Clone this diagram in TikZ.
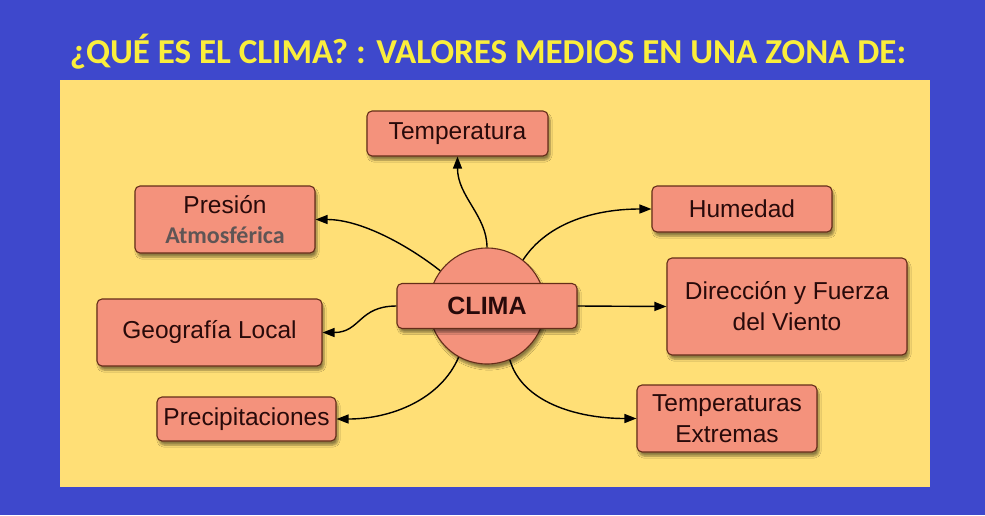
\documentclass[tikz,border=0pt]{standalone}
\usepackage{fontspec}
\setmainfont{Liberation Sans}
\newfontfamily\titlefont{Carlito}
\usetikzlibrary{arrows.meta,shadows.blur}
\definecolor{bgblue}{RGB}{62,72,204}
\definecolor{panel}{RGB}{255,223,118}
\definecolor{titleyel}{RGB}{250,238,60}
\definecolor{salmon}{RGB}{244,146,124}
\definecolor{edgebrown}{RGB}{100,45,25}
\definecolor{txtdark}{RGB}{40,10,10}
\definecolor{graytxt}{RGB}{95,85,85}
\tikzset{
  box/.style={draw=edgebrown, line width=1.1pt, fill=salmon, rounded corners=5pt,
    align=center, text=txtdark, inner sep=0pt,
    font=\fontsize{24.5}{31}\selectfont,
    blur shadow={shadow xshift=2pt, shadow yshift=-4pt, shadow blur steps=6, shadow opacity=45}},
  conn/.style={draw=black, line width=1.4pt, -{Triangle[length=12pt,width=9pt]}},
}
\begin{document}
\begin{tikzpicture}[x=1pt,y=-1pt]
\useasboundingbox (0,0) rectangle (985,515);
\fill[bgblue] (0,0) rectangle (985,515);
\fill[panel] (60,80) rectangle (930,487);
\node[text=titleyel, font=\titlefont\bfseries\fontsize{35}{40}\selectfont] (title) at (488,52) {¿QUÉ ES EL CLIMA? : VALORES MEDIOS EN UNA ZONA DE:};

\node[box, minimum width=116pt, minimum height=116pt, circle, rounded corners=0pt] (circ) at (487,306) {};

\node[box, minimum width=181pt, minimum height=45pt] (temp) at (457.5,133.5) {Temperatura};
\node[box, minimum width=180pt, minimum height=67pt] (pres) at (225,219.5) {Presión\\[-1pt]{\titlefont\bfseries\fontsize{24}{26}\selectfont\color{graytxt}Atmosférica}};
\node[box, minimum width=180pt, minimum height=46pt] (hum) at (742,209) {Humedad};
\node[box, minimum width=240pt, minimum height=97pt] (dir) at (787,306.5) {Dirección y Fuerza\\del Viento};
\node[box, minimum width=225pt, minimum height=67pt] (geo) at (209.5,332.5) {Geografía Local};
\node[box, minimum width=179pt, minimum height=44pt] (prec) at (246.5,419) {Precipitaciones};
\node[box, minimum width=180pt, minimum height=67pt] (text) at (727,418.5) {Temperaturas\\Extremas};

\draw[conn] (circ.90) .. controls +(0,-32) and +(0,40) .. (temp.south);
\draw[conn] (circ.143) .. controls +(-33,-26) and +(45,0) .. (pres.east);
\draw[conn] (circ.52) .. controls +(25,-38) and +(-55,0) .. (hum.west);
\draw[conn] (circ.241) .. controls +(-18,42) and +(55,0) .. (prec.east);
\draw[conn] (circ.293) .. controls +(12,42) and +(-60,0) .. (text.west);

\node[box, minimum width=180pt, minimum height=45pt, font=\bfseries\fontsize{25}{28}\selectfont] (clima) at (487,306) {CLIMA};

\draw[conn] (clima.east) -- (dir.west);
\draw[conn] (clima.west) .. controls +(-38,0) and +(38,0) .. (geo.east);
\end{tikzpicture}
\end{document}
